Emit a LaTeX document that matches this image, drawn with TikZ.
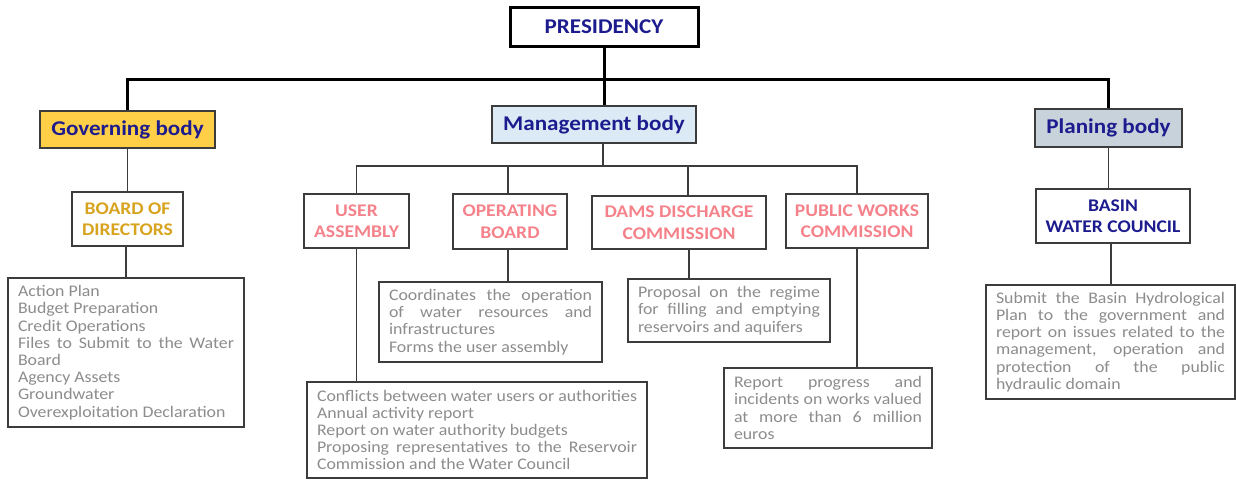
\documentclass[tikz,border=0pt]{standalone}
\usepackage{fontspec}
\setmainfont{Carlito}[FakeStretch=1.1]
\usetikzlibrary{positioning}

\definecolor{navy}{HTML}{1C1C8E}
\definecolor{golden}{HTML}{D8A31E}
\definecolor{salmon}{HTML}{F5828A}
\definecolor{tasktext}{HTML}{8C8C8C}
\definecolor{edge}{HTML}{3C3C3C}
\definecolor{govfill}{HTML}{FFCF47}
\definecolor{mgmtfill}{HTML}{DCEAF6}
\definecolor{planfill}{HTML}{C8D2DB}

\tikzset{
  topbox/.style={draw=black, line width=3pt, text=navy, inner sep=0pt,
    font=\fontsize{21}{24}\selectfont\bfseries},
  bodybox/.style={draw=edge, line width=1.6pt, text=navy, inner sep=0pt,
    font=\fontsize{21}{24}\selectfont\bfseries},
  unitbox/.style={draw=edge, line width=1.3pt, align=center, inner sep=0pt,
    font=\fontsize{17.8}{21.5}\selectfont\bfseries},
  taskbox/.style={draw=edge, line width=1.1pt, text=tasktext, align=justify,
    inner xsep=10pt, inner ysep=4pt, font=\fontsize{16.2}{17.2}\selectfont},
  mainline/.style={line width=3pt, black},
  link/.style={line width=1.1pt, edge},
}

\begin{document}
\begin{tikzpicture}[x=1pt, y=-1pt]
\useasboundingbox (0,0) rectangle (1236,479);

% top level
\node[topbox, minimum width=188, minimum height=39] (pres) at (604,26.5) {PRESIDENCY};
\node[bodybox, fill=govfill, minimum width=175, minimum height=37] (gov) at (127.5,129.5) {Governing body};
\node[bodybox, fill=mgmtfill, minimum width=204, minimum height=37] (mgmt) at (594,124.5) {Management body};
\node[bodybox, fill=planfill, minimum width=147, minimum height=38] (plan) at (1108.5,128) {Planing body};
\coordinate (hub) at (603,79);

\draw[mainline] (pres.south) -- (mgmt.north -| pres.south);
\draw[mainline] (gov.north) |- (hub) -| (plan.north);

% governing body
\node[unitbox, text=golden, minimum width=111, minimum height=54] (board) at (127.5,219) {BOARD OF\\DIRECTORS};
\node[taskbox, text width=216, minimum height=149] (boardtasks) at (126,352.5)
  {Action Plan\\
   Budget Preparation\\
   Credit Operations\\
   Files to Submit to the Water\linebreak Board\\
   Agency Assets\\
   Groundwater\\
   Overexploitation Declaration};

\draw[link] (gov.south) -- (gov.south |- board.north);
\draw[link] (board.south -| boardtasks.north) -- (boardtasks.north);

% management body
\coordinate (mhub) at (603,166);
\node[unitbox, text=salmon, minimum width=105, minimum height=54] (user) at (356.5,221) {USER\\ASSEMBLY};
\node[unitbox, text=salmon, minimum width=114, minimum height=55] (oper) at (510,221.5) {OPERATING\\BOARD};
\node[unitbox, text=salmon, minimum width=174, minimum height=53] (dams) at (679,222.5) {DAMS DISCHARGE\\COMMISSION};
\node[unitbox, text=salmon, minimum width=142, minimum height=54] (public) at (857,221) {PUBLIC WORKS\\COMMISSION};

\draw[link] (mgmt.south -| mhub) -- (mhub);
\draw[link] (user.north) |- (mhub) -| (public.north);
\draw[link] ([xshift=-2pt]oper.north) -- ([xshift=-2pt]oper.north |- mhub);
\draw[link] ([xshift=9pt]dams.north) -- ([xshift=9pt]dams.north |- mhub);

\node[taskbox, text width=320, minimum height=96] (usertasks) at (477,430)
  {Conflicts between water users or authorities\\
   Annual activity report\\
   Report on water authority budgets\\
   Proposing representatives to the Reservoir\linebreak Commission and the Water Council};
\node[taskbox, text width=203, minimum height=80] (opertasks) at (490.5,322)
  {Coordinates the operation\linebreak of water resources and\linebreak infrastructures\\
   Forms the user assembly};
\node[taskbox, text width=182, minimum height=63] (damstasks) at (729,310.5)
  {Proposal on the regime\linebreak for filling and emptying\linebreak reservoirs and aquifers};
\node[taskbox, text width=188, minimum height=80] (publictasks) at (828,408)
  {Report progress and\linebreak incidents on works valued\linebreak at more than 6 million\linebreak euros};

\draw[link] (user.south) -- (user.south |- usertasks.north);
\draw[link] ([xshift=-2pt]oper.south) -- ([xshift=-2pt]oper.south |- opertasks.north);
\draw[link] ([xshift=10pt]dams.south) -- ([xshift=10pt]dams.south |- damstasks.north);
\draw[link] (public.south) -- (public.south |- publictasks.north);

% planning body
\node[unitbox, text=navy, minimum width=154, minimum height=54] (basin) at (1113,216) {BASIN\\WATER COUNCIL};
\node[taskbox, text width=229, minimum height=114] (basintasks) at (1110.5,342)
  {Submit the Basin Hydrological\linebreak Plan to the government and\linebreak report on issues related to the\linebreak management, operation and\linebreak protection of the public\linebreak hydraulic domain};

\draw[link] (plan.south) -- (plan.south |- basin.north);
\draw[link] ([xshift=-2pt]basin.south) -- ([xshift=-2pt]basin.south |- basintasks.north);
\end{tikzpicture}
\end{document}
